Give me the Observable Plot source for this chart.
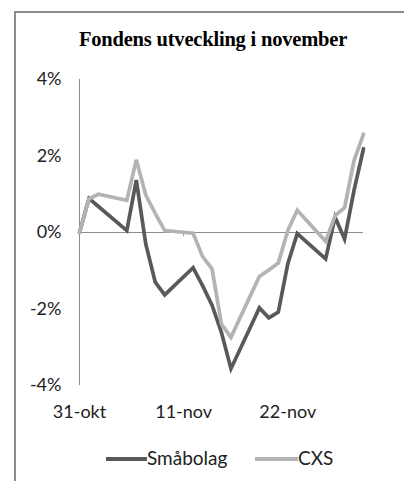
<!DOCTYPE html>
<html>
<head>
<meta charset="utf-8">
<script src="https://cdn.jsdelivr.net/npm/d3@7"></script>
<script src="https://cdn.jsdelivr.net/npm/@observablehq/plot@0.6"></script>
<style>
  html, body { margin: 0; padding: 0; background: #fff; width: 404px; height: 481px; overflow: hidden; }
  #frame { position: absolute; left: 14px; top: 11px; width: 500px; height: 600px; border-left: 2px solid #8c8c8c; border-top: 2px solid #8c8c8c; box-sizing: border-box; }
  #title { position: absolute; left: 14px; width: 398px; top: 27px; text-align: center; font-family: "Liberation Serif", serif; font-weight: bold; font-size: 20.5px; line-height: 24px; color: #000; letter-spacing: -0.2px; }
  #chart { position: absolute; left: 0; top: 0; }
  #legend { position: absolute; left: 0; top: 0; font-family: Lato, "Open Sans", sans-serif; font-size: 19px; color: #222; white-space: nowrap; }
  .sw { position: absolute; height: 4px; }
  .lt { position: absolute; line-height: 24px; }
</style>
</head>
<body>
<div id="frame"></div>
<div id="title">Fondens utveckling i november</div>
<div id="chart"></div>
<div id="legend"></div>
<script>
const dates = ["2012-10-31","2012-11-01","2012-11-02","2012-11-05","2012-11-06","2012-11-07","2012-11-08","2012-11-09","2012-11-12","2012-11-13","2012-11-14","2012-11-15","2012-11-16","2012-11-19","2012-11-20","2012-11-21","2012-11-22","2012-11-23","2012-11-26","2012-11-27","2012-11-28","2012-11-29","2012-11-30"];
const smabolag = [0, 0.89, 0.68, 0.05, 1.37, -0.3, -1.3, -1.63, -0.92, -1.39, -1.9, -2.62, -3.56, -1.97, -2.23, -2.08, -0.82, -0.03, -0.69, 0.4, -0.17, 1.1, 2.19];
const cxs = [0, 0.88, 1.0, 0.84, 1.9, 0.98, 0.5, 0.05, -0.02, -0.63, -0.95, -2.4, -2.74, -1.15, -0.98, -0.8, 0.05, 0.58, -0.23, 0.44, 0.65, 1.88, 2.57];
const seriesNames = ["Småbolag", "CXS"];
const seriesColors = ["#595959", "#b3b3b3"];
const yTicks = [-4, -2, 0, 2, 4];
const xTickDates = ["2012-10-31", "2012-11-11", "2012-11-22"];
const xTickLabels = ["31-okt", "11-nov", "22-nov"];

const parse = d3.utcParse("%Y-%m-%d");
const dts = dates.map(parse);
const xt = xTickDates.map(parse);
const rows = [];
dts.forEach((d, i) => {
  rows.push({date: d, value: smabolag[i], series: seriesNames[0]});
});
dts.forEach((d, i) => {
  rows.push({date: d, value: cxs[i], series: seriesNames[1]});
});
const labelOf = new Map(xt.map((d, i) => [+d, xTickLabels[i]]));

const font = 'Lato, "Open Sans", sans-serif';
const chart = Plot.plot({
  width: 404,
  height: 440,
  marginLeft: 79,
  marginRight: 41,
  marginTop: 79,
  marginBottom: 55,
  style: {fontFamily: font, fontSize: "18px", color: "#222", background: "transparent", overflow: "visible"},
  x: {type: "utc", domain: [dts[0], dts[dts.length - 1]]},
  y: {domain: [-4, 4]},
  color: {domain: seriesNames, range: seriesColors},
  marks: [
    Plot.ruleY([0], {stroke: "#8c8c8c", strokeWidth: 1}),
    Plot.ruleX([dts[0]], {y1: -4, y2: 4, stroke: "#8c8c8c", strokeWidth: 1}),
    Plot.ruleX(xt.slice(1), {y1: 0, y2: -0.11, stroke: "#8c8c8c", strokeWidth: 1}),
    Plot.axisY({ticks: yTicks, tickFormat: d => d + "%", tickSize: 0, tickPadding: 18, label: null, fontSize: 18}),
    Plot.axisX({ticks: xt, tickFormat: d => labelOf.get(+d), tickSize: 0, tickPadding: 20, label: null, fontSize: 18}),
    Plot.line(rows, {x: "date", y: "value", z: "series", stroke: "series", strokeWidth: 3.7, strokeLinejoin: "miter", strokeMiterlimit: 4})
  ]
});
document.getElementById("chart").appendChild(chart);

const legend = document.getElementById("legend");
const swLeft = [106, 255], swWidth = [41, 43], txtLeft = [147, 298];
seriesNames.forEach((name, i) => {
  const sw = document.createElement("div");
  sw.className = "sw";
  sw.style.left = swLeft[i] + "px";
  sw.style.width = swWidth[i] + "px";
  sw.style.top = "457px";
  sw.style.background = seriesColors[i];
  legend.appendChild(sw);
  const t = document.createElement("div");
  t.className = "lt";
  t.style.left = txtLeft[i] + "px";
  t.style.top = "446px";
  t.textContent = name;
  legend.appendChild(t);
});
</script>
</body>
</html>
